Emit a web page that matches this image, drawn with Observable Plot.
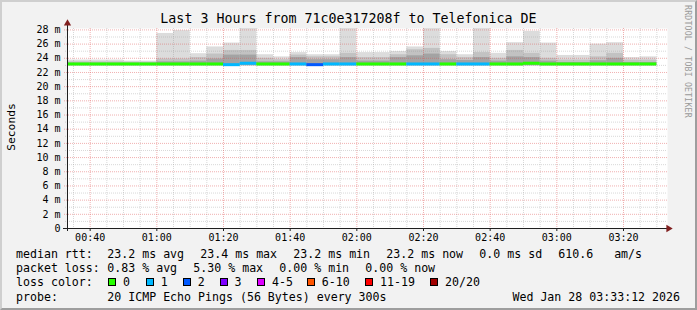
<!DOCTYPE html>
<html><head><meta charset="utf-8">
<script src="https://cdn.jsdelivr.net/npm/d3@7"></script>
<script src="https://cdn.jsdelivr.net/npm/@observablehq/plot@0.6"></script>
<style>
body{margin:0;background:#f2f2f2;}
#wrap{position:relative;width:697px;height:310px;background:#f2f2f2;overflow:hidden;font-family:"DejaVu Sans Mono",monospace;color:#000;}
#wrap svg{position:absolute;left:0;top:0;}
#border{position:absolute;left:0;top:0;width:697px;height:310px;box-sizing:border-box;border-style:solid;border-width:2px;border-color:#cfcfcf #9e9e9e #9e9e9e #cfcfcf;pointer-events:none;}
.t{position:absolute;white-space:pre;font-size:11.6px;line-height:14px;}
.sw{position:absolute;width:6px;height:6px;border:1px solid #000;}
#title{position:absolute;left:0;width:697px;top:11px;text-align:center;font-size:13.3px;line-height:16px;white-space:pre;}
#ylab{position:absolute;left:11px;top:127px;transform:translate(-50%,-50%) rotate(-90deg);font-size:11.3px;white-space:pre;}
#rrd{position:absolute;left:683px;top:5px;writing-mode:vertical-rl;font-size:8.2px;color:#9a9a9a;white-space:pre;letter-spacing:0.2px;}
</style></head>
<body>
<div id="wrap"></div>
<script>
// ---- data ----
const barEnd = ["00:35","00:40","00:45","00:50","00:55","01:00","01:05","01:10","01:15","01:20","01:25","01:30",
  "01:35","01:40","01:45","01:50","01:55","02:00","02:05","02:10","02:15","02:20","02:25","02:30",
  "02:35","02:40","02:45","02:50","02:55","03:00","03:05","03:10","03:15","03:20","03:25","03:30"];
const smokeMin  = [22.95,22.95,22.95,22.95,22.95,22.95,22.95,22.95,22.95,22.95,22.9,22.95,
  22.95,22.95,22.95,22.9,22.95,22.95,22.95,22.95,22.95,22.95,22.95,22.95,
  22.95,22.95,22.95,22.95,22.95,22.95,22.95,22.95,22.95,22.95,22.95,22.95];
const smokeMax  = [23.75,23.75,23.75,23.75,23.6,23.6,27.5,27.9,24.65,25.6,26.15,28.3,
  24.5,24.2,24.8,24.5,24.5,28.3,24.8,24.8,24.95,25.6,28.3,24.95,
  24.5,28.3,24.7,26.2,27.8,26.15,24.4,24.4,26.0,26.2,24.1,24.2];
const smokeMid  = [23.5,23.5,23.5,23.5,23.45,23.45,23.9,23.9,24.1,24.6,25.1,25.1,
  24.0,23.8,24.45,24.2,24.2,24.7,24.1,24.1,24.5,25.2,25.4,24.5,
  24.1,24.8,24.0,25.1,24.7,24.0,23.75,23.75,24.2,24.7,23.75,23.75];
const smokeCore = [23.3,23.3,23.3,23.3,23.3,23.3,23.5,23.5,23.6,23.9,24.45,24.45,
  23.5,23.5,24.1,23.8,23.8,24.1,23.6,23.6,24.1,24.35,24.6,23.8,
  23.7,24.1,23.6,24.2,24.1,23.6,23.4,23.4,23.65,24.0,23.4,23.4];
const medianRtt = [23.2,23.2,23.2,23.2,23.2,23.2,23.2,23.2,23.2,23.2,23.1,23.3,
  23.2,23.2,23.2,23.1,23.2,23.2,23.2,23.2,23.2,23.2,23.2,23.2,
  23.2,23.2,23.2,23.2,23.3,23.2,23.2,23.2,23.2,23.2,23.2,23.2];
const lossCount = [0,0,0,0,0,0,0,0,0,0,1,1,
  0,0,1,2,1,1,0,0,0,1,1,0,
  1,1,0,0,0,0,0,0,0,0,0,0];
const lossLabels = ["0","1","2","3","4-5","6-10","11-19","20/20"];
const lossColors = ["#26ff00","#00b8ff","#0059ff","#7e00ff","#dd00ff","#ff5500","#ff0000","#a10000"];
const xTickLabels = ["00:40","01:00","01:20","01:40","02:00","02:20","02:40","03:00","03:20"];
const yTickValues = [0,2,4,6,8,10,12,14,16,18,20,22,24,26,28];
const yMinorValues = [1,3,5,7,9,11,13,15,17,19,21,23,25,27];
const startTime = "00:33:12", endTime = "03:33:12";
const titleText = "Last 3 Hours from 71c0e317208f to Telefonica DE";
const yLabel = "Seconds";
const legendLine1 = [["median rtt:",16],["23.2 ms avg",107.3],["23.4 ms max",200.3],["23.2 ms min",293.3],["23.2 ms now",386.3],["0.0 ms sd",479.3],["610.6   am/s",558.3]];
const legendLine2 = [["packet loss:",16],["0.83 % avg",107.3],["5.30 % max",193.3],["0.00 % min",279.3],["0.00 % now",365.3]];
const swatchX = [108,145.7,182.7,219.5,257,306.7,365,430];
const probeText = "20 ICMP Echo Pings (56 Bytes) every 300s";
const dateText = "Wed Jan 28 03:33:12 2026";

// ---- build ----
const T = s => new Date(`2026-01-28T${s.length === 5 ? s + ":00" : s}Z`);
const lossCat = n => n === 0 ? 0 : n === 1 ? 1 : n === 2 ? 2 : n === 3 ? 3 : n <= 5 ? 4 : n <= 10 ? 5 : n < 20 ? 6 : 7;
const rows = barEnd.map((e, i) => ({
  end: T(e), start: new Date(+T(e) - 300000),
  min: smokeMin[i], max: smokeMax[i], mid: smokeMid[i], core: smokeCore[i],
  median: medianRtt[i], loss: lossLabels[lossCat(lossCount[i])]
}));
const t0 = T(startTime), t1 = T(endTime);
const yTop = 28.2;
const majorX = xTickLabels.map(T);
const minorX = d3.utcMinute.every(5).range(t0, t1).filter(d => d.getUTCMinutes() % 20 !== 0);

const chart = Plot.plot({
  width: 697, height: 310,
  marginLeft: 67, marginRight: 30, marginTop: 28, marginBottom: 82,
  style: {background: "transparent", fontFamily: "DejaVu Sans Mono, monospace", fontSize: "10px", color: "#000"},
  x: {type: "utc", domain: [t0, t1], axis: null},
  y: {domain: [0, yTop], axis: null},
  color: {domain: lossLabels, range: lossColors},
  marks: [
    Plot.frame({fill: "#ffffff", stroke: null}),
    Plot.rect(rows, {x1: "start", x2: "end", y1: "min", y2: "max", fill: "#dcdcdc", clip: true}),
    Plot.rect(rows, {x1: "start", x2: "end", y1: "min", y2: "mid", fill: "#c2c2c2", clip: true}),
    Plot.rect(rows, {x1: "start", x2: "end", y1: "min", y2: "core", fill: "#a3a3a3", clip: true}),
    Plot.ruleY(yMinorValues, {stroke: "#8f8f8f", strokeOpacity: 0.35, strokeDasharray: "1,1", insetLeft: -2}),
    Plot.ruleX(minorX, {stroke: "#8f8f8f", strokeOpacity: 0.35, strokeDasharray: "1,1"}),
    Plot.ruleY(yTickValues.filter(v => v > 0), {stroke: "#de4f4f", strokeOpacity: 0.45, strokeDasharray: "1,1", insetLeft: -3}),
    Plot.ruleX(majorX, {stroke: "#de4f4f", strokeOpacity: 0.45, strokeDasharray: "1,1"}),
    Plot.ruleY(rows, {y: "median", x1: "start", x2: "end", stroke: "loss", strokeWidth: 3, clip: true}),
    Plot.ruleY([0], {stroke: "#1f1f1f", insetLeft: -4, insetRight: -2}),
    Plot.ruleX([t0], {stroke: "#1f1f1f", insetTop: -5, insetBottom: -3}),
    Plot.dot([t0], {x: d => d, y: () => yTop, symbol: "triangle", r: 2.7, fill: "#801f1f", stroke: null, dy: -5}),
    Plot.dot([t1], {x: d => d, y: () => 0, symbol: "triangle", r: 2.7, fill: "#801f1f", stroke: null, rotate: 90, dx: 1}),
    Plot.axisY({ticks: yTickValues, tickFormat: d => d === 0 ? "0" : `${d} m`, tickSize: 0, tickPadding: 7, fill: "#000"}),
    Plot.axisX({ticks: majorX, tickFormat: d3.utcFormat("%H:%M"), tickSize: 3, tickPadding: 2, fill: "#000", stroke: "#1f1f1f"})
  ]
});

const wrap = document.getElementById("wrap");
wrap.appendChild(chart);
function addDiv(cls, text, css) {
  const d = document.createElement("div");
  if (cls) d.className = cls;
  d.textContent = text;
  Object.assign(d.style, css || {});
  wrap.appendChild(d);
  return d;
}
const t = addDiv(null, titleText); t.id = "title";
const yl = addDiv(null, yLabel); yl.id = "ylab";
const rr = addDiv(null, "RRDTOOL / TOBI OETIKER"); rr.id = "rrd";
const lineTop = [247, 261, 275, 289.5];
legendLine1.forEach(([s, x]) => addDiv("t", s, {left: x + "px", top: lineTop[0] + "px"}));
legendLine2.forEach(([s, x]) => addDiv("t", s, {left: x + "px", top: lineTop[1] + "px"}));
addDiv("t", "loss color:", {left: "16px", top: lineTop[2] + "px"});
lossLabels.forEach((lab, i) => {
  addDiv("sw", "", {left: swatchX[i] + "px", top: "278px", background: lossColors[i]});
  addDiv("t", lab, {left: (swatchX[i] + 15) + "px", top: lineTop[2] + "px"});
});
addDiv("t", "probe:", {left: "16px", top: lineTop[3] + "px"});
addDiv("t", probeText, {left: "107.3px", top: lineTop[3] + "px"});
addDiv("t", dateText, {right: "17px", top: lineTop[3] + "px"});
const b = document.createElement("div"); b.id = "border"; wrap.appendChild(b);
</script>
</body></html>
